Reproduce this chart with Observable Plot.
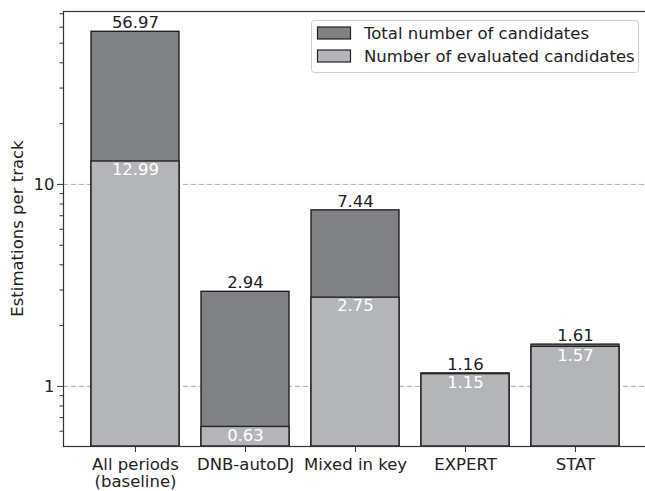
<!DOCTYPE html>
<html>
<head>
<meta charset="utf-8">
<script src="https://cdn.jsdelivr.net/npm/d3@7"></script>
<script src="https://cdn.jsdelivr.net/npm/@observablehq/plot@0.6"></script>
<style>
  html, body { margin: 0; padding: 0; background: #fff; }
  #chart { position: relative; width: 645px; height: 491px; }
</style>
</head>
<body>
<div id="chart"></div>
<script>
const categories = ["All periods\n(baseline)", "DNB-autoDJ", "Mixed in key", "EXPERT", "STAT"];
const totalCandidates = [56.97, 2.94, 7.44, 1.16, 1.61];
const evaluatedCandidates = [12.99, 0.63, 2.75, 1.15, 1.57];
const majorTicks = [1, 10];
const minorTicks = [0.6, 0.7, 0.8, 0.9, 2, 3, 4, 5, 6, 7, 8, 9, 20, 30, 40, 50, 60, 70];
const legendLabels = ["Total number of candidates", "Number of evaluated candidates"];

const colTotal = "#808185";
const colEval = "#b4b5b9";
const edge = "#222222";
const FS = 16.5;

const yMin = 0.504, yMax = 71.8;
const data = categories.map((c, i) => ({cat: c, total: totalCandidates[i], evaluated: evaluatedCandidates[i]}));

const plot = Plot.plot({
  width: 645,
  height: 491,
  marginTop: 11,
  marginBottom: 45,
  marginLeft: 63,
  marginRight: -2,
  style: {fontFamily: "DejaVu Sans, sans-serif", fontSize: FS + "px", color: "#222", background: "#fff"},
  x: {domain: categories, paddingInner: 0.2, paddingOuter: 0.24},
  y: {type: "log", domain: [yMin, yMax]},
  marks: [
    Plot.ruleY(majorTicks, {stroke: "#b0b0b0", strokeWidth: 1, strokeDasharray: "5,3"}),
    Plot.barY(data, {x: "cat", y1: yMin, y2: "total", fill: colTotal, stroke: edge, strokeWidth: 1.4}),
    Plot.barY(data, {x: "cat", y1: yMin, y2: "evaluated", fill: colEval, stroke: edge, strokeWidth: 1.4}),
    Plot.text(data, {x: "cat", y: "total", text: d => d.total.toFixed(2), dy: -9, fill: "#222", fontSize: FS}),
    Plot.text(data, {x: "cat", y: "evaluated", text: d => d.evaluated.toFixed(2), dy: 8.5, fill: "#ffffff", fontSize: FS}),
    Plot.axisY(majorTicks, {tickSize: 6, tickPadding: 3, tickFormat: d => String(d), label: null, stroke: "#333", fontSize: FS}),
    Plot.axisY(minorTicks, {tickSize: 3.5, tickFormat: () => "", label: null, stroke: "#333"}),
    Plot.axisX({tickSize: 6, tickPadding: 5, label: null, stroke: "#333", fontSize: FS, lineHeight: 1.06}),
    Plot.frame({stroke: "#333", strokeWidth: 1.2})
  ]
});

document.getElementById("chart").appendChild(plot);

const svg = d3.select(plot);
// y-axis title
svg.append("text")
  .attr("transform", "translate(17,228.5) rotate(-90)")
  .attr("text-anchor", "middle")
  .attr("dominant-baseline", "central")
  .attr("font-family", "DejaVu Sans, sans-serif")
  .attr("font-size", FS)
  .attr("fill", "#222")
  .text("Estimations per track");

// legend
const lg = svg.append("g").attr("font-family", "DejaVu Sans, sans-serif").attr("font-size", FS).attr("text-anchor", "start");
lg.append("rect").attr("x", 311.5).attr("y", 20.5).attr("width", 327).attr("height", 52)
  .attr("rx", 3).attr("fill", "#fff").attr("fill-opacity", 0.85).attr("stroke", "#d0d0d0");
const legendColors = [colTotal, colEval];
legendLabels.forEach((t, i) => {
  const cy = 33 + i * 23;
  lg.append("rect").attr("x", 317.5).attr("y", cy - 6).attr("width", 33).attr("height", 12)
    .attr("fill", legendColors[i]).attr("stroke", edge).attr("stroke-width", 1.2);
  lg.append("text").attr("x", 364).attr("y", cy).attr("dominant-baseline", "central")
    .attr("text-anchor", "start").attr("fill", "#222").text(t);
});
</script>
</body>
</html>
